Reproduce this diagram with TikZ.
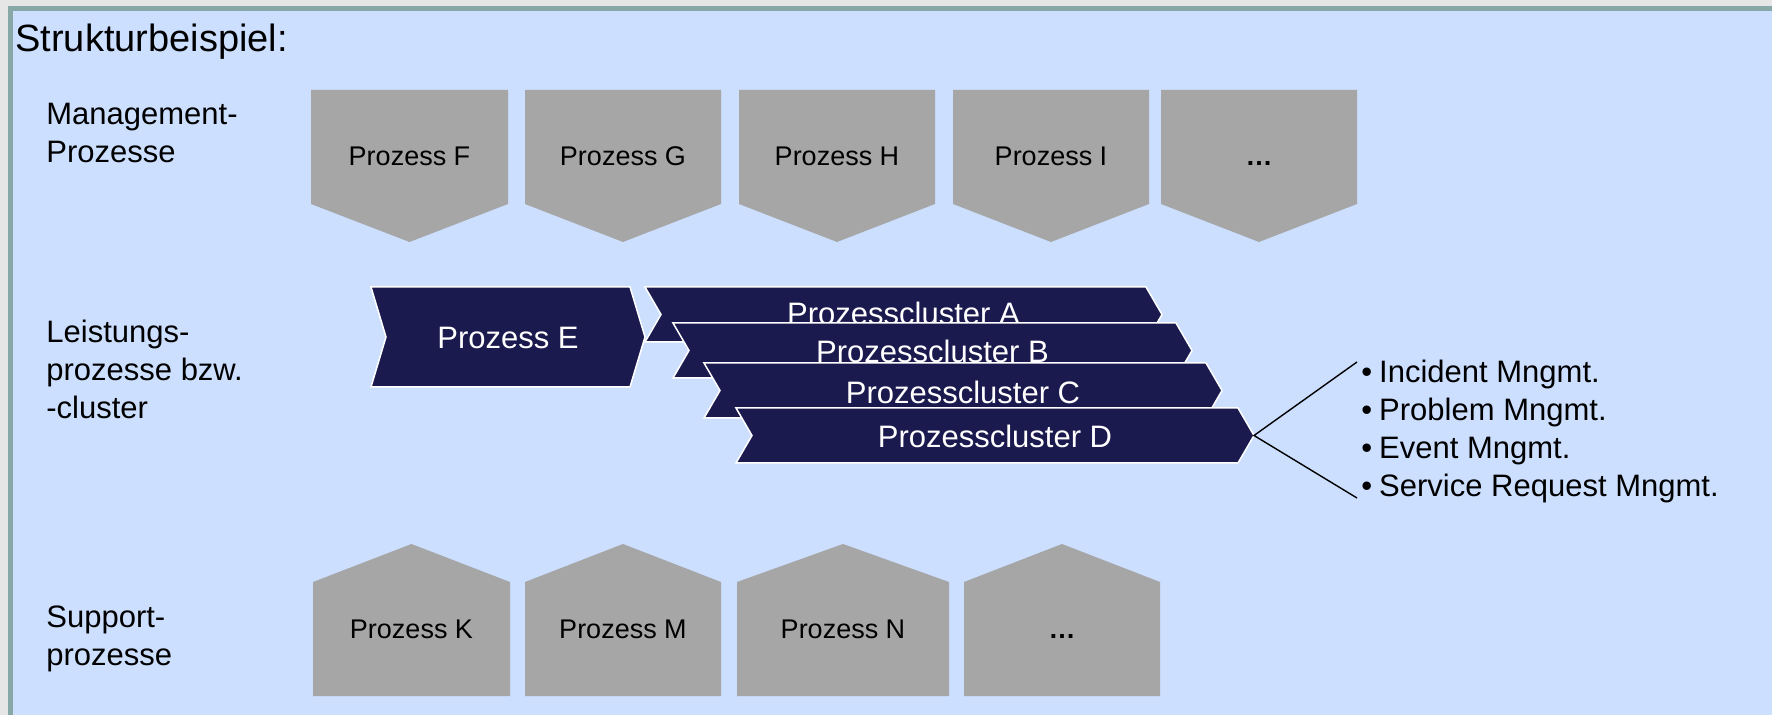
\documentclass[tikz,border=0pt]{standalone}
\usepackage{fontspec}
\setmainfont{Liberation Sans}

\definecolor{paper}{HTML}{E6E6E6}
\definecolor{panel}{HTML}{CCDFFF}
\definecolor{rim}{HTML}{88A8A8}
\definecolor{slate}{HTML}{A6A6A6}
\definecolor{navy}{HTML}{1B1A4E}

\tikzset{
  heading/.style={font=\fontsize{19}{22}\selectfont, anchor=base west, inner sep=0pt},
  % multi-line labels: the base anchor sits on the last line
  rowlabel/.style={font=\fontsize{15.5}{19}\selectfont, align=left, anchor=base west, inner sep=0pt},
  greytext/.style={font=\fontsize{13.5}{16}\selectfont, anchor=base, inner sep=0pt},
  navytext/.style={font=\fontsize{15.5}{18}\selectfont, text=white, anchor=base, inner sep=0pt},
  greybox/.style={fill=slate},
  navybox/.style={fill=navy, draw=white, line width=0.75pt, line join=miter},
  listitem/.style={font=\fontsize{15.5}{19}\selectfont, anchor=base west, inner sep=0pt},
  fan/.style={draw=black, line width=0.7pt},
}

% management process: flat top, pointing down
\newcommand\mgmtbox[4]{%
  \fill[greybox] (#2,90) -- (#3,90) -- (#3,204) -- ({(#2+#3)/2},242) -- (#2,204) -- cycle;
  \node[greytext] (#1) at ({(#2+#3)/2},166) {#4};}

% support process: pointing up, flat bottom
\newcommand\suppbox[4]{%
  \fill[greybox] (#2,696) -- (#2,582) -- ({(#2+#3)/2},544) -- (#3,582) -- (#3,696) -- cycle;
  \node[greytext] (#1) at ({(#2+#3)/2},639) {#4};}

% core process chevron: name, left x, tip x, top y, bottom y, depth, label, baseline
\newcommand\procchevron[8]{%
  \filldraw[navybox] (#2,#4) -- ({#3-#6},#4) -- (#3,{(#4+#5)/2}) -- ({#3-#6},#5)
    -- (#2,#5) -- ({#2+#6},{(#4+#5)/2}) -- cycle;
  \node[navytext] (#1) at ({(#2+#3)/2},#8) {#7};}

\begin{document}
\begin{tikzpicture}[x=0.5pt, y=-0.5pt]
  \useasboundingbox (0,0) rectangle (1772,715);
  % page and panel (the panel runs off the right and bottom edges)
  \fill[paper] (0,0) rectangle (1772,715);
  \fill[rim] (8,6) rectangle (1790,730);
  \fill[panel] (13,11) rectangle (1790,730);

  \node[heading] (title) at (15,52) {Strukturbeispiel:};

  % row labels
  \node[rowlabel] (mgmtlabel) at (46,163) {Management-\\Prozesse};
  \node[rowlabel] (corelabel) at (46,419) {Leistungs-\\prozesse bzw.\\-cluster};
  \node[rowlabel] (supplabel) at (46,665) {Support-\\prozesse};

  % management processes
  \mgmtbox{pF}{311}{508}{Prozess F}
  \mgmtbox{pG}{525}{721}{Prozess G}
  \mgmtbox{pH}{739}{935}{Prozess H}
  \mgmtbox{pI}{953}{1149}{Prozess I}
  \mgmtbox{pMore}{1161}{1357}{\textbf{…}}

  % core processes and clusters
  \procchevron{pE}{371}{645}{287}{387}{15}{Prozess E}{349}
  \procchevron{cA}{645}{1162}{287}{342}{16}{Prozesscluster A}{325}
  \procchevron{cB}{673}{1192}{323}{378}{16}{Prozesscluster B}{363}
  \procchevron{cC}{704}{1222}{363}{418}{16}{Prozesscluster C}{404}
  \procchevron{cD}{736}{1254}{408}{463}{16}{Prozesscluster D}{448}

  % breakdown of cluster D
  \coordinate (fanroot) at (1254,435.5);
  \coordinate (fantop) at (1357,362);
  \coordinate (fanbot) at (1357,498);
  \draw[fan] (fantop) -- (fanroot) -- (fanbot);
  \node[listitem] (li1) at (1361,383) {•\hspace{3.5pt}Incident Mngmt.};
  \node[listitem] (li2) at (1361,421) {•\hspace{3.5pt}Problem Mngmt.};
  \node[listitem] (li3) at (1361,459) {•\hspace{3.5pt}Event Mngmt.};
  \node[listitem] (li4) at (1361,497) {•\hspace{3.5pt}Service Request Mngmt.};

  % support processes
  \suppbox{pK}{313}{510}{Prozess K}
  \suppbox{pM}{525}{721}{Prozess M}
  \suppbox{pN}{737}{949}{Prozess N}
  \suppbox{pMore2}{964}{1160}{\textbf{…}}
\end{tikzpicture}
\end{document}
